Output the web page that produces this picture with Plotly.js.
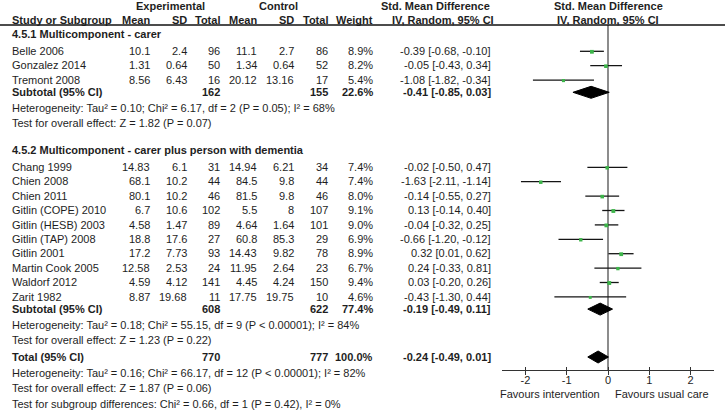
<!DOCTYPE html>
<html><head><meta charset="utf-8">
<script src="https://cdn.plot.ly/plotly-3.0.1.min.js"></script>
<style>html,body{margin:0;padding:0;background:#fff}#chart{width:725px;height:420px}</style>
</head><body><div id="chart"></div>
<script>
// ---------------- DATA ----------------
const subgroupNames = ["4.5.1 Multicomponent - carer", "4.5.2 Multicomponent - carer plus person with dementia"];
const studyNames = ["Belle 2006","Gonzalez 2014","Tremont 2008",
  "Chang 1999","Chien 2008","Chien 2011","Gitlin (COPE) 2010","Gitlin (HESB) 2003","Gitlin (TAP) 2008","Gitlin 2001","Martin Cook 2005","Waldorf 2012","Zarit 1982"];
const studyGroup = [0,0,0, 1,1,1,1,1,1,1,1,1,1];
const expMean = [10.1,1.31,8.56, 14.83,68.1,80.1,6.7,4.58,18.8,17.2,12.58,4.59,8.87];
const expSD   = [2.4,0.64,6.43, 6.1,10.2,10.2,10.6,1.47,17.6,7.73,2.53,4.12,19.68];
const expN    = [96,50,16, 31,44,46,102,89,27,93,24,141,11];
const ctlMean = [11.1,1.34,20.12, 14.94,84.5,81.5,5.5,4.64,60.8,14.43,11.95,4.45,17.75];
const ctlSD   = [2.7,0.64,13.16, 6.21,9.8,9.8,8,1.64,85.3,9.82,2.64,4.24,19.75];
const ctlN    = [86,52,17, 34,44,46,107,101,29,78,23,150,10];
const weight  = [8.9,8.2,5.4, 7.4,7.4,8.0,9.1,9.0,6.9,8.9,6.7,9.4,4.6];
const smd     = [-0.39,-0.05,-1.08, -0.02,-1.63,-0.14,0.13,-0.04,-0.66,0.32,0.24,0.03,-0.43];
const ciLow   = [-0.68,-0.43,-1.82, -0.50,-2.11,-0.55,-0.14,-0.32,-1.20,0.01,-0.33,-0.20,-1.30];
const ciHigh  = [-0.10,0.34,-0.34, 0.47,-1.14,0.27,0.40,0.25,-0.12,0.62,0.81,0.26,0.44];

const subExpN = [162,608];
const subCtlN = [155,622];
const subWeight = [22.6,77.4];
const subSmd = [-0.41,-0.19];
const subLow = [-0.85,-0.49];
const subHigh = [0.03,0.11];
const subHet = ["Heterogeneity: Tau² = 0.10; Chi² = 6.17, df = 2 (P = 0.05); I² = 68%",
                "Heterogeneity: Tau² = 0.18; Chi² = 55.15, df = 9 (P < 0.00001); I² = 84%"];
const subTest = ["Test for overall effect: Z = 1.82 (P = 0.07)",
                 "Test for overall effect: Z = 1.23 (P = 0.22)"];

const totalLabel = "Total (95% CI)";
const totalExpN = 770, totalCtlN = 777, totalWeight = 100.0;
const totalSmd = -0.24, totalLow = -0.49, totalHigh = 0.01;
const totalNotes = ["Heterogeneity: Tau² = 0.16; Chi² = 66.17, df = 12 (P < 0.00001); I² = 82%",
                    "Test for overall effect: Z = 1.87 (P = 0.06)",
                    "Test for subgroup differences: Chi² = 0.66, df = 1 (P = 0.42), I² = 0%"];

const colHeaders = ["Mean","SD","Total","Mean","SD","Total","Weight","IV, Random, 95% CI"];
const groupHeaders = ["Experimental","Control","Std. Mean Difference","Std. Mean Difference"];
const plotHeader2 = "IV, Random, 95% CI";
const tickVals = [-2,-1,0,1,2];
const tickLabels = ["-2","-1","0","1","2"];
const favourLabels = ["Favours intervention","Favours usual care"];

// ---------------- LAYOUT HELPERS ----------------
const W = 725, H = 420;
const FONT = "Liberation Sans, Arial, sans-serif";
const TXT = "#1e1e1e";
const colRight = [152,189,222,259,296,330,375,493];
const px = v => v / W;
const ann = [];
function t(x, y, text, anchor, bold, size) {
  ann.push({xref:"paper", yref:"y", x:px(x), y:y, text: bold ? "<b>"+text+"</b>" : text,
    xanchor: anchor, yanchor:"middle", showarrow:false,
    font:{family:FONT, size:size||11, color:TXT}});
}
const fmtCI = (e,l,h) => e.toFixed(2)+" ["+l.toFixed(2)+", "+h.toFixed(2)+"]";

// headers
t(170, 6, groupHeaders[0], "center", true);
t(278, 6, groupHeaders[1], "center", true);
t(435, 6, groupHeaders[2], "center", true);
t(608, 6, groupHeaders[3], "center", true);
t(10, 19.5, "Study or Subgroup", "left", true);
colHeaders.forEach((h,i) => t(colRight[i] + (i===7?3:0), 19.5, h, "right", true));
t(608, 19.5, plotHeader2, "center", true);

const traces = [];
const groupHeaderY = [34, 150];
const groupStartY = [51, 167];
const STEP = 14.4;
const squareColor = "#3db54a";

const subtotalY = [];
for (let g = 0; g < 2; g++) {
  t(10, groupHeaderY[g], subgroupNames[g], "left", true);
  let k = 0, lastY = 0;
  for (let i = 0; i < studyNames.length; i++) {
    if (studyGroup[i] !== g) continue;
    const y = groupStartY[g] + STEP * k; k++; lastY = y;
    t(10, y, studyNames[i], "left");
    const vals = [String(expMean[i]), String(expSD[i]), String(expN[i]),
                  String(ctlMean[i]), String(ctlSD[i]), String(ctlN[i]),
                  weight[i].toFixed(1)+"%", fmtCI(smd[i], ciLow[i], ciHigh[i])];
    vals.forEach((v,j) => t(colRight[j], y, v, "right"));
    traces.push({x:[ciLow[i], ciHigh[i]], y:[y+0.3, y+0.3], mode:"lines", type:"scatter",
      line:{color:"#141414", width:1.3}, hoverinfo:"skip", showlegend:false});
    traces.push({x:[smd[i]], y:[y+0.8], mode:"markers", type:"scatter",
      marker:{symbol:"square", size:2 + weight[i]/5, color:squareColor, line:{width:0}},
      hoverinfo:"skip", showlegend:false});
  }
  const sy = lastY + 12.5;
  subtotalY.push(sy);
  t(10, sy, "Subtotal (95% CI)", "left", true);
  t(colRight[2], sy, String(subExpN[g]), "right", true);
  t(colRight[5], sy, String(subCtlN[g]), "right", true);
  t(colRight[6], sy, subWeight[g].toFixed(1)+"%", "right", true);
  t(colRight[7], sy, fmtCI(subSmd[g], subLow[g], subHigh[g]), "right", true);
  t(10, sy + 15.5, subHet[g], "left");
  t(10, sy + 30.5, subTest[g], "left");
}

function diamond(e, l, h, y, hh) {
  traces.push({x:[l, e, h, e, l], y:[y, y-hh, y, y+hh, y], mode:"lines", type:"scatter",
    fill:"toself", fillcolor:"#000", line:{color:"#000", width:1}, hoverinfo:"skip", showlegend:false});
}
for (let g = 0; g < 2; g++) diamond(subSmd[g], subLow[g], subHigh[g], subtotalY[g], 6);

const totalY = 357;
t(10, totalY, totalLabel, "left", true);
t(colRight[2], totalY, String(totalExpN), "right", true);
t(colRight[5], totalY, String(totalCtlN), "right", true);
t(colRight[6], totalY, totalWeight.toFixed(1)+"%", "right", true);
t(colRight[7], totalY, fmtCI(totalSmd, totalLow, totalHigh), "right", true);
diamond(totalSmd, totalLow, totalHigh, totalY, 6);
totalNotes.forEach((n,i) => t(10, totalY + 15.5*(i+1), n, "left"));

const axisY = 370;
t(602, 394, favourLabels[0], "right");
t(613, 394, favourLabels[1], "left");

const xRange = [-2.57, 2.57];
const xDomain = [502/W, 714/W];
const axisPos = (H - axisY) / H;

const layout = {
  width: W, height: H, margin:{l:0,r:0,t:0,b:0},
  paper_bgcolor:"#fff", plot_bgcolor:"rgba(0,0,0,0)",
  showlegend:false,
  xaxis:{domain:xDomain, range:xRange, anchor:"free", position:axisPos,
    showline:true, linecolor:"#333", linewidth:1, zeroline:false, showgrid:false,
    ticks:"inside", ticklen:3, tickwidth:1, tickcolor:"#333", ticklabelstandoff:0,
    tickvals:tickVals, ticktext:tickLabels,
    tickfont:{family:FONT, size:11, color:TXT}, fixedrange:true},
  xaxis2:{domain:xDomain, range:xRange, anchor:"free", position:axisPos, overlaying:"x",
    showline:false, zeroline:false, showgrid:false, ticks:"outside", ticklen:4, tickwidth:1, tickcolor:"#333",
    tickvals:tickVals, showticklabels:false, fixedrange:true},
  yaxis:{domain:[0,1], range:[H, 0], visible:false, fixedrange:true},
  annotations: ann,
  shapes:[
    {type:"line", xref:"paper", yref:"y", x0:0, x1:1, y0:25, y1:25, line:{color:"#111", width:1.3}},
    {type:"line", xref:"x", yref:"y", x0:0, x1:0, y0:25, y1:axisY, line:{color:"#808080", width:1.8}, layer:"below"}
  ]
};
traces.unshift({x:[0], y:[-100], xaxis:"x2", yaxis:"y", mode:"markers", marker:{opacity:0}, hoverinfo:"skip", showlegend:false});

Plotly.newPlot("chart", traces, layout, {displayModeBar:false, staticPlot:true});
</script>
</body></html>
